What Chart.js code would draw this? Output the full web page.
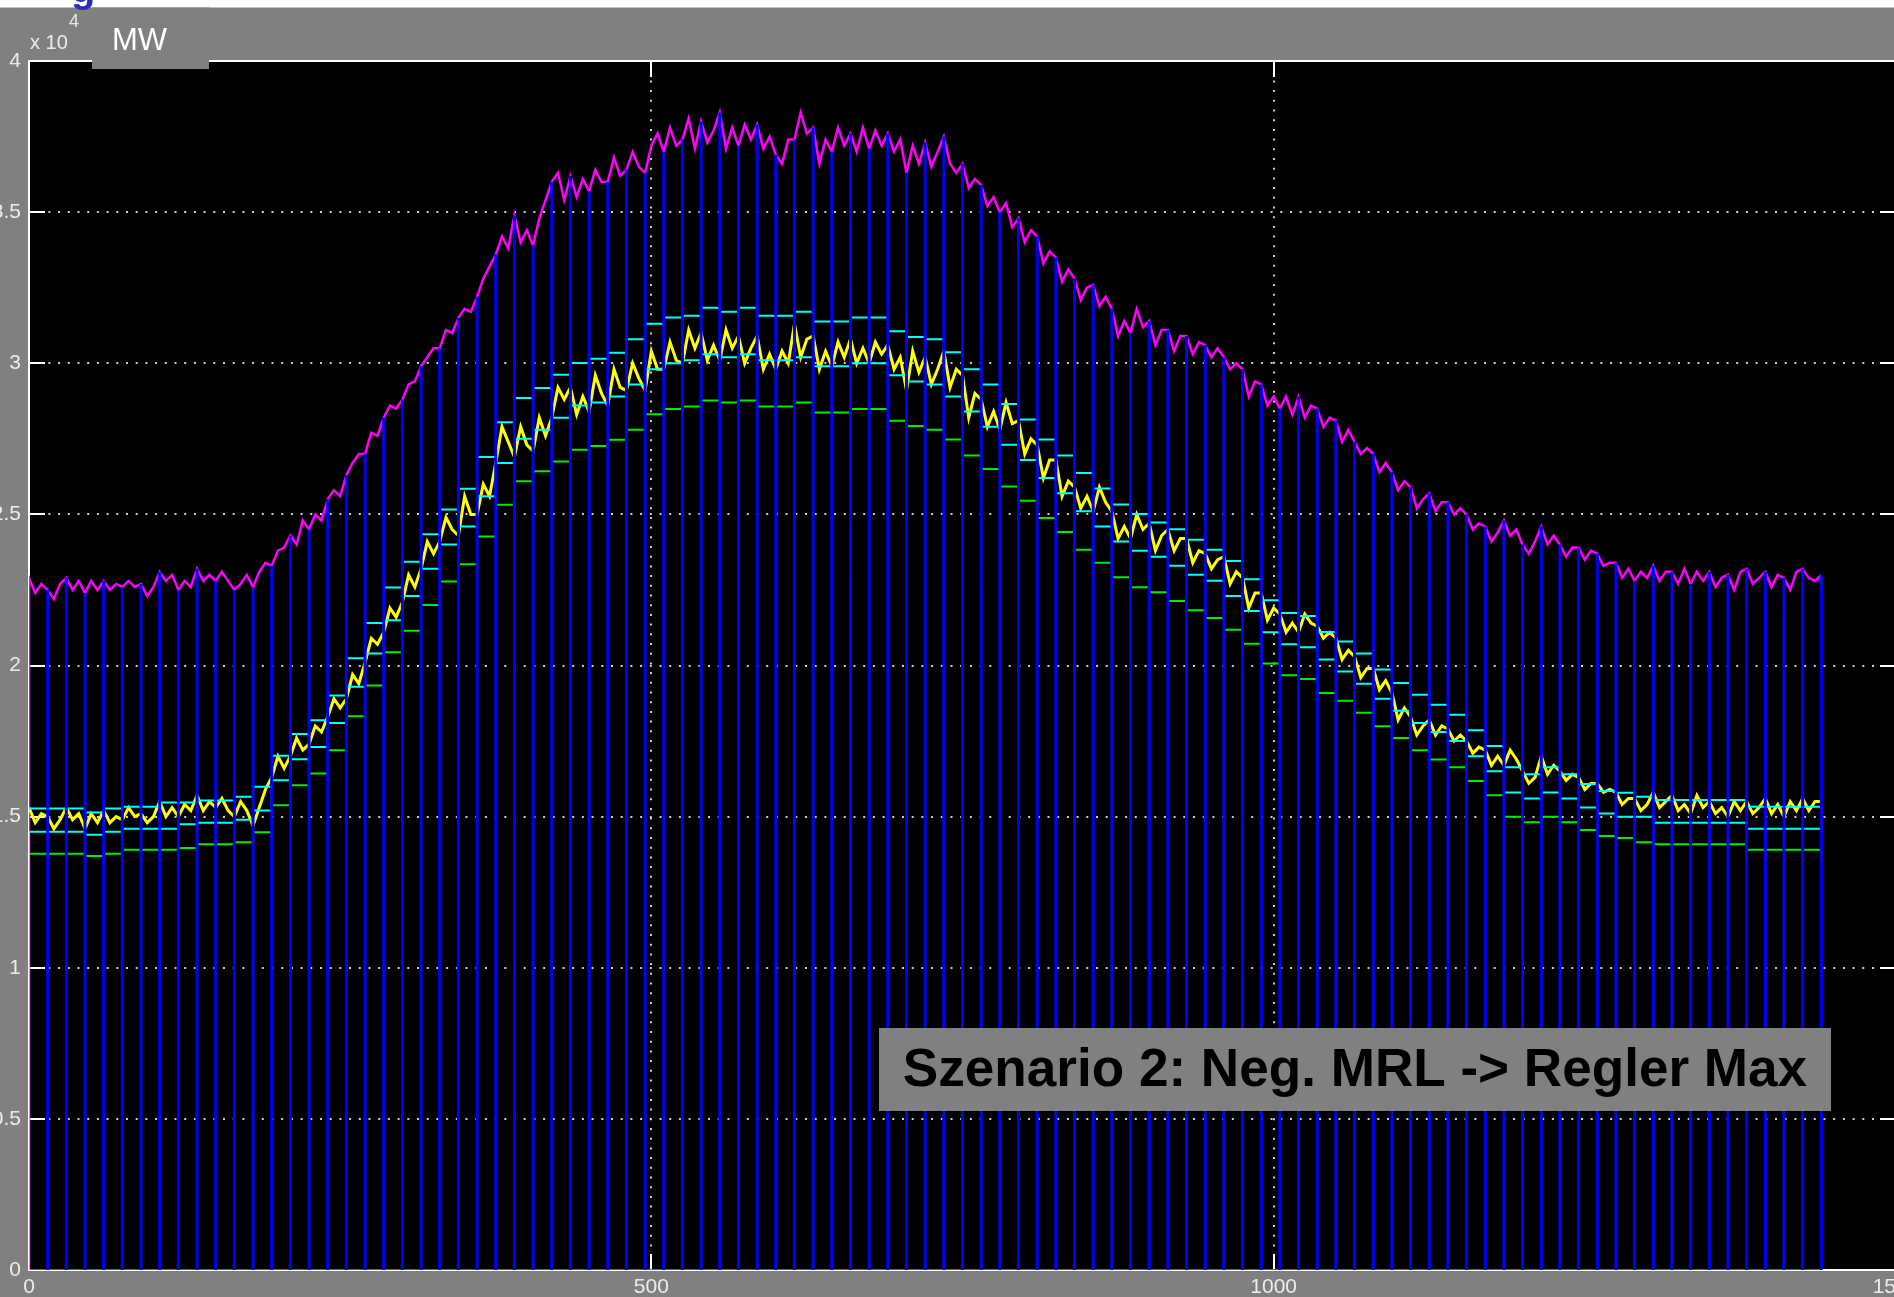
<!DOCTYPE html>
<html>
<head>
<meta charset="utf-8">
<title>Szenario 2: Neg. MRL -&gt; Regler Max</title>
<script src="https://cdn.jsdelivr.net/npm/chart.js@4.4.1/dist/chart.umd.min.js"></script>
<style>
  html, body { margin: 0; padding: 0; background: #808080; overflow: hidden; width: 1894px; height: 1297px; }
  #wrap { position: absolute; left: -40px; top: 0; width: 1960px; height: 1297px; }
  canvas { display: block; }
</style>
</head>
<body>
<div id="wrap"><canvas id="c" width="1960" height="1297"></canvas></div>
<script>
// ---- data (MW) ------------------------------------------------------------
// Sample spacing of the measured curves, minutes
const STEP_MIN = 5;
// Length of one control period, minutes
const PERIOD_MIN = 15;

// Total load, one value every 5 minutes (00:00 ... 24:00), 12 values per hour
const LOAD_MW = [
  22900,22400,22700, 22500,22200,22700, 22900,22500,22800, 22400,22800,22500,
  22800,22500,22700, 22600,22800,22600, 22700,22300,22600, 23100,22800,23000,
  22500,22800,22600, 23200,22800,23000, 22800,23100,22800, 22500,22700,23000,
  22600,23100,23400, 23300,23800,23900, 24300,24000,24800, 24500,25000,24800,
  25500,25800,25600, 26300,26700,27000, 27000,27700,27600, 28200,28600,28500,
  28800,29300,29400, 29900,30200,30500, 30500,31100,31000, 31500,31800,31700,
  32200,32800,33200, 33600,34200,33800, 34900,34000,34400, 33900,34800,35400,
  36000,36300,35400, 36200,35500,36100, 35700,36400,36000, 36000,36800,36200,
  36400,37000,36500, 36300,37200,37600, 37000,37800,37200, 37400,38100,37100,
  38000,37300,37700, 38300,37100,37800, 37200,37900,37400, 37900,37100,37500,
  36900,36600,37400, 37400,38300,37600, 37800,36600,37400, 37000,37800,37200,
  37600,37000,37800, 37100,37700,37200, 37600,37000,37400, 36300,37200,36600,
  37300,36500,37000, 37500,36600,36300, 36600,35800,36100, 35900,35200,35500,
  35000,35300,34500, 34800,34000,34400, 34200,33300,33700, 33500,32700,33100,
  32800,32100,32500, 32600,31900,32200, 31800,30900,31400, 31000,31800,31200,
  31400,30600,31100, 31100,30400,30900, 30900,30300,30700, 30600,30200,30500,
  30200,29800,30000, 29800,28900,29400, 29300,28600,28900, 28500,28900,28300,
  28900,28200,28600, 28500,27900,28200, 28100,27400,27800, 27400,27000,27200,
  27000,26400,26700, 26400,25800,26100, 25900,25200,25500, 25700,25100,25400,
  25400,25000,25200, 25000,24500,24700, 24600,24100,24400, 24800,24300,24500,
  24000,23700,24100, 24600,24000,24300, 24000,23600,23900, 23900,23500,23800,
  23700,23300,23400, 23400,22900,23200, 22800,23100,22900, 23300,22800,23100,
  23100,22700,23200, 22700,23100,22800, 23100,22600,22900, 23000,22500,23100,
  23200,22700,22900, 23100,22600,23000, 22900,22500,23100, 23200,22900,22800,
  23000
];

// Controlled generation, one value every 5 minutes
const GEN_MW = [
  15300,14800,15100, 15000,14600,14900, 15300,14900,15100, 14600,15100,14800,
  15200,14800,15000, 14900,15300,15000, 15100,14800,15000, 15500,15000,15300,
  15000,15400,15200, 15700,15200,15500, 15300,15600,15200, 15000,15500,15200,
  14700,15300,15900, 16300,17000,16600, 17000,17600,17200, 17400,18000,17800,
  18300,18900,18600, 18900,19700,19400, 20100,20900,20700, 21100,21900,21600,
  22100,23000,22600, 23200,24100,23700, 24100,24900,24500, 24300,25600,25000,
  25000,26000,25600, 26700,27900,27400, 26900,27900,27300, 27100,28200,27600,
  28200,29200,28800, 29200,28300,28900, 28400,29600,29000, 28600,29800,29200,
  29100,30000,29500, 29100,30400,29800, 29800,30700,30100, 30000,31100,30500,
  31000,30100,30600, 30100,31100,30500, 30900,30000,30500, 30900,29800,30300,
  29800,30400,30000, 31300,30200,30800, 30900,29800,30400, 29900,30700,30200,
  30800,30000,30500, 30000,30700,30300, 30600,29800,30200, 29100,30400,29700,
  30200,29300,29800, 30400,29200,29800, 29600,28200,29000, 28800,27900,28400,
  27800,28700,28000, 28100,27000,27500, 27300,26200,26800, 26800,25600,26100,
  25900,25200,25600, 25100,25900,25400, 25100,24200,24600, 24200,25000,24500,
  24700,23800,24300, 24500,23800,24200, 24200,23400,23800, 23700,23200,23500,
  23600,22700,23100, 22900,21900,22400, 22400,21500,21900, 21700,21100,21400,
  21100,21700,21400, 21300,20900,21100, 20900,20200,20500, 20300,19600,19900,
  19900,19200,19500, 19100,18200,18600, 18300,17700,18000, 18200,17700,18000,
  17900,17500,17700, 17500,17100,17300, 17200,16700,17000, 16700,17200,16900,
  16500,16100,16300, 17000,16400,16700, 16500,16200,16400, 16300,15900,16100,
  16100,15800,15900, 15800,15400,15600, 15600,15200,15400, 15800,15300,15500,
  15700,15200,15400, 15100,15700,15300, 15500,15100,15300, 15000,15500,15200,
  15500,15100,15300, 15600,15100,15400, 15000,15500,15200, 15600,15200,15500,
  15500
];

// Schedule per 15-minute period (96 periods)
const SCHEDULE_MW = [
  14500,14500,14500,14400,14500,14600,14600,14600,14750,14800,14800,14900,15200,16200,16900,17300,18100,19300,20400,21500,22300,23200,24000,24600,25600,
  26700,27500,27800,28200,28600,28700,28900,29300,29800,30000,30100,30300,30200,30300,30100,30100,30200,29900,29900,30000,30000,29600,29400,29300,28900,
  28400,27900,27300,26800,26200,25700,25100,24600,24100,23800,23600,23300,23000,22800,22300,21800,21100,20700,20600,20200,19800,19400,18900,18500,
  18100,17800,17500,17000,16500,15800,15600,15800,15600,15300,15100,15000,15000,14800,14800,14800,14800,14800,14600,14600,14600,14600
];

// Upper band per 15-minute period
const BAND_MAX_MW = [
  15270,15270,15270,15140,15270,15330,15330,15470,15470,15530,15530,15660,15990,17010,17730,18190,19010,20240,21410,22580,23430,24340,25160,25850,26900,
  28050,28850,29180,29620,30010,30150,30350,30790,31310,31510,31570,31840,31700,31840,31570,31570,31700,31380,31380,31510,31510,31060,30870,30790,30360,
  29800,29300,28650,28140,27480,26950,26370,25860,25330,25010,24730,24510,24160,23830,23460,22850,22160,21740,21640,21110,20790,20400,19870,19420,
  19030,18700,18370,17860,17340,16630,16400,16630,16400,16080,15850,15790,15660,15550,15550,15550,15550,15550,15330,15330,15330,15330
];

// Lower band per 15-minute period
const BAND_MIN_MW = [
  13770,13770,13770,13700,13770,13900,13900,13900,13960,14090,14090,14150,14480,15380,16040,16430,17200,18320,19340,20440,21150,22000,22780,23350,24270,
  25320,26100,26430,26750,27140,27260,27470,27800,28310,28490,28570,28770,28700,28770,28570,28570,28700,28370,28370,28490,28490,28100,27920,27800,27480,
  26950,26500,25920,25450,24880,24420,23830,23400,22920,22590,22420,22130,21830,21570,21180,20720,20070,19680,19550,19090,18830,18440,17990,17600,
  17200,16890,16630,16180,15710,15000,14810,15000,14810,14560,14360,14290,14150,14090,14090,14090,14090,14090,13900,13900,13900,13900
];

// Axis ticks
const X_TICKS = [0, 500, 1000, 1500];
const Y_TICKS = [0, 5000, 10000, 15000, 20000, 25000, 30000, 35000, 40000];

const SCENARIO_TEXT = 'Szenario 2: Neg. MRL -> Regler Max';

// ---- series built from the arrays ----------------------------------------
const t = i => i * STEP_MIN;
const lastT = (LOAD_MW.length - 1) * STEP_MIN;

const loadPts = [{ x: 0, y: 0 }].concat(LOAD_MW.map((v, i) => ({ x: t(i), y: v })));
const genPts = GEN_MW.map((v, i) => ({ x: t(i), y: v }));

// Period markers: vertical line at each period end, up to the load at that time
const markerPts = [];
for (let k = 1; k * PERIOD_MIN <= lastT; k++) {
  const tm = k * PERIOD_MIN;
  const load = LOAD_MW[tm / STEP_MIN];
  markerPts.push({ x: tm, y: 0 }, { x: tm, y: load }, { x: tm, y: null });
}

// Schedule as a staircase starting from zero
const schedulePts = [{ x: 0, y: 0 }]
  .concat(SCHEDULE_MW.map((v, k) => ({ x: k * PERIOD_MIN, y: v })))
  .concat([{ x: SCHEDULE_MW.length * PERIOD_MIN, y: SCHEDULE_MW[SCHEDULE_MW.length - 1] }]);

// Band limits as separate dashes per period
function dashes(arr) {
  const pts = [];
  arr.forEach((v, k) => {
    pts.push({ x: k * PERIOD_MIN, y: v }, { x: (k + 1) * PERIOD_MIN, y: v }, { x: (k + 1) * PERIOD_MIN, y: null });
  });
  return pts;
}

const baselinePts = [{ x: 0, y: 0 }, { x: lastT, y: 0 }];

// ---- drawing helpers ---------------------------------------------------------
const FONT = '"Liberation Sans", Arial, Helvetica, sans-serif';

const frame = {
  id: 'frame',
  beforeDraw(chart) {
    const { ctx, chartArea: a, width, height } = chart;
    ctx.save();
    ctx.fillStyle = '#808080';
    ctx.fillRect(0, 0, width, height);
    ctx.fillStyle = '#ffffff';
    ctx.fillRect(0, 0, width, 7.5);
    ctx.fillStyle = '#000000';
    ctx.fillRect(a.left, a.top, a.right - a.left, a.bottom - a.top);
    ctx.restore();
  },
  beforeDatasetsDraw(chart) {
    const { ctx, chartArea: a, scales: { x, y } } = chart;
    ctx.save();
    ctx.strokeStyle = '#ffffff';
    ctx.lineWidth = 2;
    ctx.strokeRect(a.left, a.top, a.right - a.left, a.bottom - a.top);
    const L = 16;
    ctx.beginPath();
    Y_TICKS.forEach(v => {
      const py = Math.round(y.getPixelForValue(v));
      ctx.moveTo(a.left, py); ctx.lineTo(a.left + L, py);
      ctx.moveTo(a.right, py); ctx.lineTo(a.right - L, py);
    });
    X_TICKS.forEach(v => {
      const px = Math.round(x.getPixelForValue(v));
      ctx.moveTo(px, a.bottom); ctx.lineTo(px, a.bottom - L);
      ctx.moveTo(px, a.top); ctx.lineTo(px, a.top + L);
    });
    ctx.stroke();
    ctx.restore();
  },
  afterDraw(chart) {
    const { ctx } = chart;
    ctx.save();
    // heading fragment above the figure
    ctx.fillStyle = '#2b2bc0';
    ctx.font = 'bold 40px ' + FONT;
    ctx.textBaseline = 'alphabetic';
    ctx.fillText('g', 111, 1.5);

    // unit label
    ctx.fillStyle = '#808080';
    ctx.fillRect(132, 7.5, 117, 69 - 7.5);
    ctx.fillStyle = '#ffffff';
    ctx.font = '31px ' + FONT;
    ctx.fillText('MW', 152, 50);

    // scale factor
    ctx.fillStyle = '#ececec';
    ctx.font = '20px ' + FONT;
    ctx.fillText('x 10', 70, 49);
    ctx.font = '18px ' + FONT;
    ctx.fillText('4', 109, 27);

    // scenario caption
    const bx = 919, by = 1028, bw = 952, bh = 83;
    ctx.fillStyle = '#808080';
    ctx.fillRect(bx, by, bw, bh);
    ctx.font = 'bold 100px ' + FONT;
    const w100 = ctx.measureText(SCENARIO_TEXT).width;
    const size = 100 * 905 / w100;
    ctx.font = 'bold ' + size.toFixed(1) + 'px ' + FONT;
    ctx.fillStyle = '#000000';
    ctx.textAlign = 'center';
    ctx.textBaseline = 'middle';
    ctx.fillText(SCENARIO_TEXT, bx + bw / 2, by + bh / 2 + 2);
    ctx.restore();
  }
};

const lineBase = { pointRadius: 0, pointHoverRadius: 0, tension: 0, fill: false, spanGaps: false, borderCapStyle: 'butt' };

new Chart(document.getElementById('c'), {
  type: 'line',
  data: {
    datasets: [
      Object.assign({}, lineBase, { label: 'Perioden', data: markerPts, borderColor: '#0000ff', borderWidth: 3, order: 0 }),
      Object.assign({}, lineBase, { label: 'Fahrplan', data: schedulePts, borderColor: '#00ffff', borderWidth: 2, stepped: 'before', order: 1 }),
      Object.assign({}, lineBase, { label: 'Band max', data: dashes(BAND_MAX_MW), borderColor: '#00ffff', borderWidth: 2, order: 2 }),
      Object.assign({}, lineBase, { label: 'Band min', data: dashes(BAND_MIN_MW), borderColor: '#00ee00', borderWidth: 2, order: 3 }),
      Object.assign({}, lineBase, { label: 'Erzeugung', data: genPts, borderColor: '#ffff00', borderWidth: 3, order: 4 }),
      Object.assign({}, lineBase, { label: 'Last', data: loadPts, borderColor: '#ff00ff', borderWidth: 2.5, order: 5 }),
      Object.assign({}, lineBase, { label: 'Null', data: baselinePts, borderColor: '#ff00ff', borderWidth: 2, order: 6 })
    ]
  },
  options: {
    responsive: false,
    devicePixelRatio: 1,
    animation: false,
    events: [],
    parsing: { xAxisKey: 'x', yAxisKey: 'y' },
    layout: { padding: { left: 0, top: 61, right: 24, bottom: 0 } },
    plugins: { legend: { display: false }, tooltip: { enabled: false } },
    scales: {
      x: {
        type: 'linear',
        min: 0,
        max: 1500,
        afterBuildTicks: s => { s.ticks = X_TICKS.map(v => ({ value: v })); },
        afterFit: s => { s.height = 27; s.paddingLeft = 0; s.paddingRight = 0; },
        ticks: { color: '#ececec', font: { family: FONT, size: 21 }, padding: 5, maxRotation: 0, autoSkip: false, callback: v => String(v) },
        grid: { color: 'rgba(215,215,215,0.95)', lineWidth: 2, drawTicks: false },
        border: { display: false, dash: [2, 7.7] }
      },
      y: {
        type: 'linear',
        min: 0,
        max: 40000,
        afterBuildTicks: s => { s.ticks = Y_TICKS.map(v => ({ value: v })); },
        afterFit: s => { s.width = 69; s.paddingTop = 0; s.paddingBottom = 0; },
        ticks: { color: '#ececec', font: { family: FONT, size: 21 }, padding: 8, autoSkip: false, callback: v => String(Math.round(v / 1000) / 10) },
        grid: { color: 'rgba(215,215,215,0.95)', lineWidth: 2, drawTicks: false },
        border: { display: false, dash: [2, 7.7] }
      }
    }
  },
  plugins: [frame]
});
</script>
</body>
</html>
